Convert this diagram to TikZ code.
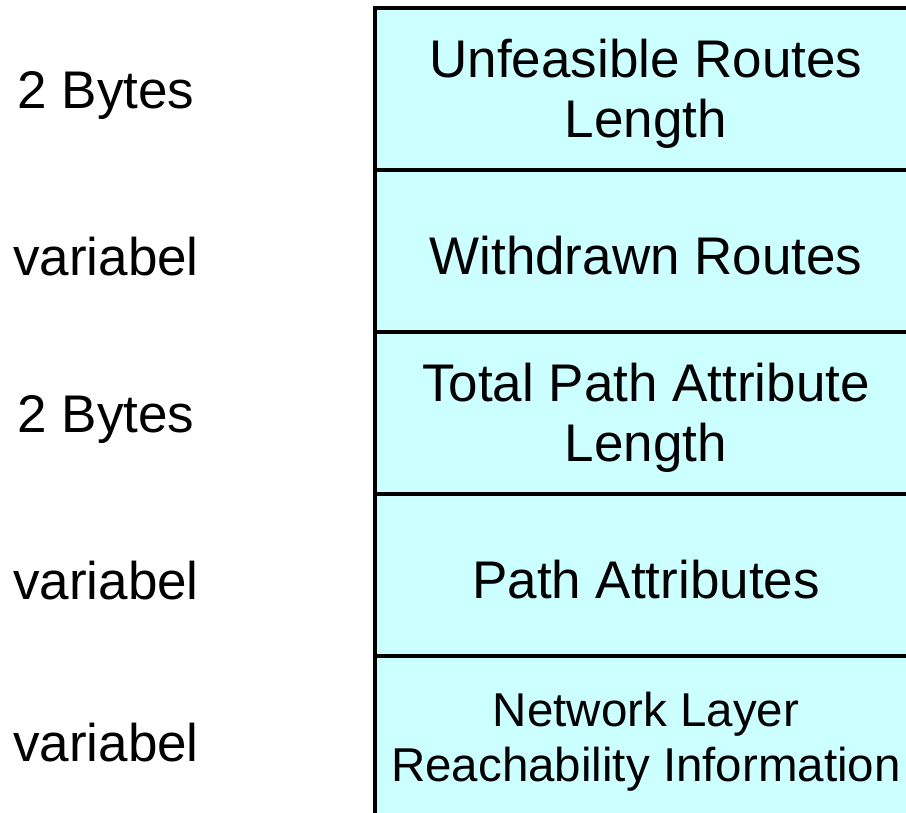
\documentclass[tikz,border=0pt]{standalone}
\usepackage{fontspec}
\setmainfont{Liberation Sans}
\usetikzlibrary{positioning}
\definecolor{fieldcyan}{RGB}{204,255,255}

\begin{document}
\begin{tikzpicture}[
      x=1pt, y=-1pt,
      box/.style={draw, line width=3.5pt, fill=fieldcyan},
      field/.style={align=center, inner sep=0pt},
      size/.style={font=\fontsize{53}{60}\selectfont, align=center}
    ]
    \useasboundingbox (0,0) rectangle (906,813);
    \clip (0,0) rectangle (906,813);
    \foreach \i/\s/\f/\z/\b in {
      0/2 Bytes/{Unfeasible Routes\\Length}/53/60,
      1/variabel/{Withdrawn Routes}/53/60,
      2/2 Bytes/{Total Path Attribute\\Length}/53/60,
      3/variabel/{Path Attributes}/53/60,
      4/variabel/{Network Layer\\Reachability Information}/47.5/55} {
      \draw[box] (375,8+\i*162) rectangle +(542,162);
      \node[field, font=\fontsize{\z}{\b}\selectfont] (f\i) at (646,94+\i*162) {\f};
      \node[size] (l\i) at (106,95+\i*162) {\s};
    }
  \end{tikzpicture}
\end{document}
